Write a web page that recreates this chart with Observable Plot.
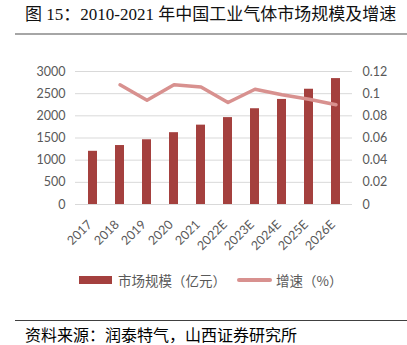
<!DOCTYPE html>
<html>
<head>
<meta charset="utf-8">
<script src="https://cdn.jsdelivr.net/npm/d3@7"></script>
<script src="https://cdn.jsdelivr.net/npm/@observablehq/plot@0.6"></script>
<style>
  html, body { margin: 0; padding: 0; background: #fff; }
  body { width: 407px; height: 345px; position: relative; overflow: hidden; }
  .title { position: absolute; left: 25px; top: 4px; font-family: "Liberation Serif", "Noto Sans CJK SC", serif; font-size: 17px; line-height: 22px; color: #111; white-space: nowrap; }
  .rule1 { position: absolute; left: 15px; top: 33px; width: 392px; height: 2px; background: #a6a6a6; }
  #chart { position: absolute; left: 0; top: 40px; }
  .legend { position: absolute; top: 270px; left: 0; width: 407px; height: 20px; font-family: "Noto Sans CJK SC", sans-serif; font-size: 13.5px; color: #595959; }
  .legend span { position: absolute; white-space: nowrap; line-height: 20px; top: 0; }
  .sw { position: absolute; }
  .rule2 { position: absolute; left: 15px; top: 320px; width: 392px; height: 1px; background: #404040; }
  .source { position: absolute; left: 25px; top: 326px; font-family: "Noto Sans CJK SC", sans-serif; font-size: 16px; line-height: 17px; color: #000; white-space: nowrap; }
</style>
</head>
<body>
<div class="title">图 15：2010-2021 年中国工业气体市场规模及增速</div>
<div class="rule1"></div>
<div id="chart"></div>
<div class="legend">
  <div class="sw" style="left:79px; top:6px; width:33px; height:8px; background:#a4403e;"></div>
  <span style="left:118px;">市场规模（亿元）</span>
  <div class="sw" style="left:237px; top:8px; width:35px; height:3.5px; background:#d8918f; border-radius:2px;"></div>
  <span style="left:276px;">增速（%）</span>
</div>
<div class="rule2"></div>
<div class="source">资料来源：润泰特气，山西证券研究所</div>
<script>
const years = ["2017", "2018", "2019", "2020", "2021", "2022E", "2023E", "2024E", "2025E", "2026E"];
const marketSize = [1200, 1330, 1460, 1620, 1790, 1960, 2160, 2370, 2600, 2840];
const growthRate = [null, 0.108, 0.094, 0.108, 0.106, 0.092, 0.104, 0.099, 0.095, 0.090];
const leftTicks = [0, 500, 1000, 1500, 2000, 2500, 3000];
const rightTicks = [0, 0.02, 0.04, 0.06, 0.08, 0.1, 0.12];

const ratio = 3000 / 0.12;
const bars = years.map((y, i) => ({year: y, size: marketSize[i]}));
const line = years.map((y, i) => ({year: y, g: growthRate[i]})).filter(d => d.g != null);

const chart = Plot.plot({
  width: 407,
  height: 225,
  marginTop: 31,
  marginBottom: 61,
  marginLeft: 75,
  marginRight: 55,
  style: {fontFamily: "Lato, 'Open Sans', sans-serif", fontSize: "12.5px", color: "#595959", background: "transparent"},
  x: {domain: years, paddingInner: 0.68, paddingOuter: 0.34, label: null},
  y: {domain: [0, 3000], label: null},
  marks: [
    Plot.gridY(leftTicks, {stroke: "#d9d9d9", strokeOpacity: 1, strokeWidth: 1}),
    Plot.barY(bars, {x: "year", y: "size", fill: "#a4403e"}),
    Plot.lineY(line, {x: "year", y: d => d.g * ratio, stroke: "#d8918f", strokeWidth: 3.5, strokeLinejoin: "round", strokeLinecap: "round"}),
    Plot.axisY(leftTicks, {anchor: "left", tickSize: 0, tickPadding: 10, label: null, tickFormat: d => String(d)}),
    Plot.axisY(rightTicks.map(v => v * ratio), {anchor: "right", tickSize: 0, tickPadding: 10, label: null, tickFormat: d => String(+(d / ratio).toFixed(2))}),
    Plot.axisX({tickRotate: -45, tickSize: 0, tickPadding: 8, dy: 10, dx: -3, label: null})
  ]
});
document.getElementById("chart").appendChild(chart);
</script>
</body>
</html>
